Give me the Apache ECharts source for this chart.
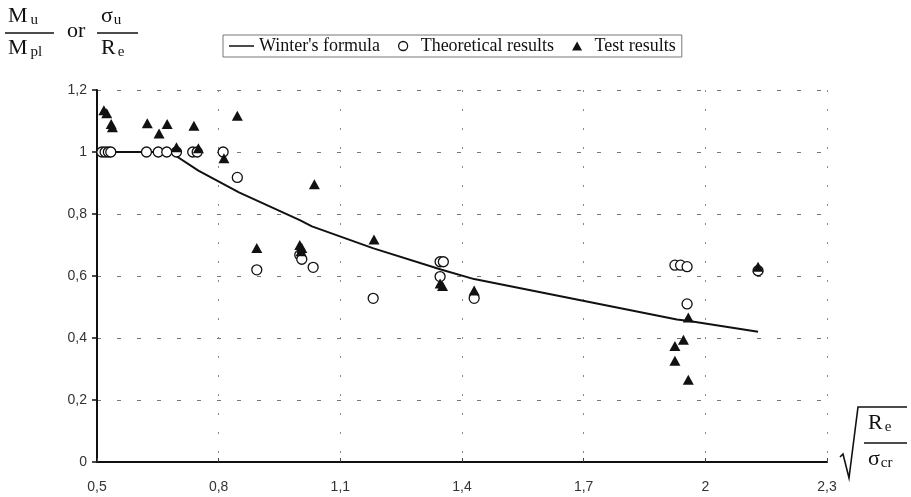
<!DOCTYPE html>
<html>
<head>
<meta charset="utf-8">
<script src="https://cdn.jsdelivr.net/npm/echarts@6/dist/echarts.min.js"></script>
<style>
html,body{margin:0;padding:0;background:#fff;}
#chart{width:911px;height:497px;}
</style>
</head>
<body>
<div id="chart"></div>
<script>
// ---- data ----
const xTicks = [0.5, 0.8, 1.1, 1.4, 1.7, 2.0, 2.3];
const yTicks = [0, 0.2, 0.4, 0.6, 0.8, 1.0, 1.2];

const winterX = [0.50, 0.68, 0.75, 0.85, 1.00, 1.03, 1.18, 1.35, 1.43, 1.93, 1.96, 2.13];
const winterY = [1.00, 1.00, 0.94, 0.87, 0.78, 0.76, 0.69, 0.62, 0.59, 0.46, 0.455, 0.42];

const theoX = [0.512, 0.520, 0.528, 0.534, 0.622, 0.651, 0.672, 0.696, 0.736, 0.747, 0.811, 0.846,
               0.894, 1.000, 1.005, 1.033, 1.181, 1.346, 1.354, 1.346, 1.430, 1.925, 1.939, 1.955, 1.955, 2.130];
const theoY = [1.00, 1.00, 1.00, 1.00, 1.00, 1.00, 1.00, 1.00, 1.00, 1.00, 1.00, 0.918,
               0.62, 0.668, 0.654, 0.628, 0.528, 0.646, 0.646, 0.598, 0.528, 0.635, 0.635, 0.63, 0.51, 0.617];

const testX = [0.517, 0.524, 0.535, 0.538, 0.624, 0.653, 0.673, 0.696, 0.739, 0.750, 0.813, 0.846,
               0.894, 1.000, 1.005, 1.003, 1.036, 1.183, 1.346, 1.352, 1.430, 1.925, 1.925, 1.946, 1.958, 1.958, 2.130];
const testY = [1.135, 1.125, 1.09, 1.08, 1.093, 1.06, 1.09, 1.015, 1.085, 1.012, 0.98, 1.117,
               0.69, 0.70, 0.69, 0.68, 0.896, 0.718, 0.576, 0.568, 0.553, 0.374, 0.327, 0.394, 0.466, 0.265, 0.63];

const seriesNames = ["Winter's formula", "Theoretical results", "Test results"];

// ---- chart ----
const pairs = (xs, ys) => xs.map((x, i) => [x, ys[i]]);
const comma = v => String(Math.round(v * 10) / 10).replace('.', ',');
const serif = '"Liberation Serif","Times New Roman",serif';
const sans = '"Liberation Sans",Arial,sans-serif';
const big = {fontFamily: serif, fontSize: 22, fill: '#111'};
const sub = (pad) => ({fontFamily: serif, fontSize: 15, fill: '#111', padding: [9, 0, 0, pad]});
const richLabel = (main, s, pad) => ({
  text: '{b|' + main + '}{s|' + s + '}',
  rich: {b: big, s: sub(pad)}
});

const chart = echarts.init(document.getElementById('chart'), null, {renderer: 'canvas'});
chart.setOption({
  animation: false,
  backgroundColor: '#fff',
  grid: {left: 97, right: 84, top: 90, bottom: 35, containLabel: false},
  legend: {
    left: 223, top: 35,
    padding: [2, 6, 2, 6],
    borderColor: '#777', borderWidth: 1,
    itemWidth: 25, itemHeight: 9, itemGap: 18,
    symbolKeepAspect: true,
    textStyle: {fontFamily: serif, fontSize: 18, color: '#111'},
    data: [
      {name: seriesNames[0], icon: 'path://M0,0 L30,0 L30,1.8 L0,1.8 Z', itemStyle: {color: '#111'}},
      {name: seriesNames[1], icon: 'circle', itemStyle: {color: '#fff', borderColor: '#111', borderWidth: 1.3}},
      {name: seriesNames[2], icon: 'path://M5,0 L10,9 L0,9 Z', itemStyle: {color: '#111'}}
    ]
  },
  xAxis: {
    type: 'value', min: xTicks[0], max: xTicks[xTicks.length - 1], interval: 0.3,
    axisLine: {show: true, onZero: false, lineStyle: {color: '#111', width: 2}},
    axisTick: {show: true, inside: true, length: 4, lineStyle: {color: '#444'}},
    axisLabel: {fontFamily: sans, fontSize: 14, color: '#333', margin: 18, formatter: comma},
    splitLine: {show: true, lineStyle: {color: '#888', width: 1, type: [2, 17]}}
  },
  yAxis: {
    type: 'value', min: yTicks[0], max: yTicks[yTicks.length - 1], interval: 0.2,
    axisLine: {show: true, lineStyle: {color: '#111', width: 2}},
    axisTick: {show: true, inside: false, length: 5, lineStyle: {color: '#111', width: 1.5}},
    axisLabel: {fontFamily: sans, fontSize: 14, color: '#333', margin: 10, formatter: comma},
    splitLine: {show: true, lineStyle: {color: '#777', width: 1, type: [4, 16]}}
  },
  series: [
    {
      name: seriesNames[0], type: 'line', data: pairs(winterX, winterY),
      symbol: 'none', lineStyle: {color: '#111', width: 2}, itemStyle: {color: '#111'}, z: 2
    },
    {
      name: seriesNames[1], type: 'scatter', data: pairs(theoX, theoY),
      symbol: 'circle', symbolSize: 10,
      itemStyle: {color: '#fff', borderColor: '#111', borderWidth: 1.3, opacity: 1}, z: 3
    },
    {
      name: seriesNames[2], type: 'scatter', data: pairs(testX, testY),
      symbol: 'triangle', symbolSize: [11, 10],
      itemStyle: {color: '#111', opacity: 1}, z: 4
    }
  ],
  graphic: [
    // y-axis title: Mu/Mpl or σu/Re
    {type: 'text', left: 8, top: 5, style: richLabel('M', 'u', 3)},
    {type: 'line', shape: {x1: 5, y1: 33, x2: 54, y2: 33}, style: {stroke: '#111', lineWidth: 1.3}},
    {type: 'text', left: 8, top: 37, style: richLabel('M', 'pl', 3)},
    {type: 'text', left: 67, top: 20, style: {text: 'or', font: '22px ' + serif, fill: '#111'}},
    {type: 'text', left: 101, top: 5, style: richLabel('σ', 'u', 1)},
    {type: 'line', shape: {x1: 97, y1: 33, x2: 138, y2: 33}, style: {stroke: '#111', lineWidth: 1.3}},
    {type: 'text', left: 101, top: 37, style: richLabel('R', 'e', 2)},
    // x-axis title: sqrt(Re/σcr)
    {type: 'polyline', shape: {points: [[840, 457], [843, 454], [849, 478], [858, 407], [907, 407]]}, style: {stroke: '#111', lineWidth: 1.6, fill: null}},
    {type: 'text', left: 868, top: 412, style: richLabel('R', 'e', 2)},
    {type: 'line', shape: {x1: 864, y1: 443, x2: 907, y2: 443}, style: {stroke: '#111', lineWidth: 1.3}},
    {type: 'text', left: 868, top: 448, style: richLabel('σ', 'cr', 1)}
  ]
});
</script>
</body>
</html>
